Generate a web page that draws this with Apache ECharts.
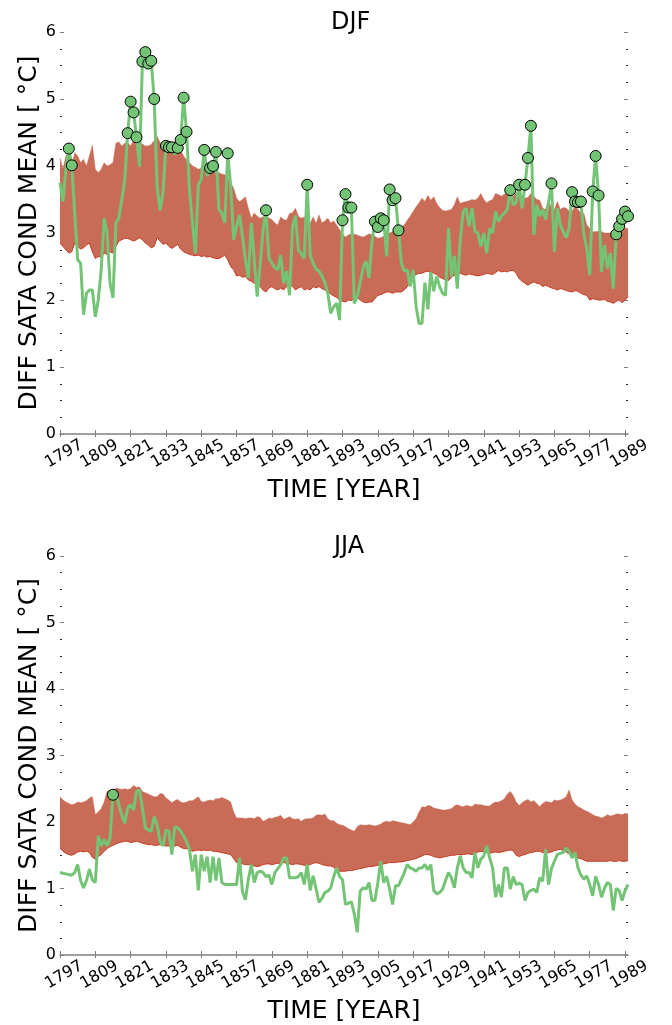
<!DOCTYPE html>
<html>
<head>
<meta charset="utf-8">
<script src="https://cdn.jsdelivr.net/npm/echarts@6/dist/echarts.min.js"></script>
<style>
  html, body { margin: 0; padding: 0; background: #ffffff; }
  #chart { width: 672px; height: 1025px; }
</style>
</head>
<body>
<div id="chart"></div>
<script>
// Seasonal (DJF / JJA) conditional SATA mean difference, 1797-1990,
// with the envelope of the reference ensemble shown as a band.
const FIRST_YEAR = 1797;
const LAST_YEAR = 1990;
const years = [];
for (let y = FIRST_YEAR; y <= LAST_YEAR; y++) years.push(String(y));

const panelTitles = ['DJF', 'JJA'];
const xAxisTitle = 'TIME [YEAR]';
const yAxisTitle = 'DIFF SATA COND MEAN [ \u00b0C]';
const yTickValues = [0, 1, 2, 3, 4, 5, 6];

// ---- DJF ----
const djfMean = [
  3.75, 3.47, 3.95, 4.26, 4.01, 3.30, 2.60, 2.55, 1.78, 2.10,
  2.15, 2.15, 1.75, 2.00, 2.45, 3.22, 3.00, 2.25, 2.03, 3.15,
  3.22, 3.50, 3.79, 4.49, 4.96, 4.80, 4.43, 3.99, 5.56, 5.70,
  5.53, 5.57, 5.00, 3.69, 3.34, 3.60, 4.30, 4.28, 4.28, 4.17,
  4.27, 4.39, 5.02, 4.51, 3.64, 3.15, 2.70, 3.72, 3.80, 4.24,
  3.85, 3.97, 4.00, 4.21, 3.35, 3.30, 3.15, 4.19, 3.70, 2.90,
  3.10, 3.27, 2.95, 2.60, 2.33, 3.15, 2.60, 2.05, 2.52, 3.04,
  3.34, 2.62, 2.55, 2.48, 2.45, 2.67, 2.25, 2.43, 2.07, 3.09,
  3.26, 2.74, 2.69, 2.62, 3.72, 2.67, 2.55, 2.46, 2.43, 2.36,
  2.26, 2.10, 1.80, 1.90, 1.95, 1.70, 3.19, 3.58, 3.38, 3.38,
  1.95, 2.05, 2.26, 2.48, 2.58, 2.33, 2.87, 3.17, 3.09, 3.22,
  3.19, 2.65, 3.65, 3.49, 3.52, 3.04, 2.55, 2.43, 2.45, 2.20,
  2.45, 1.90, 1.65, 1.65, 2.26, 1.86, 2.42, 2.13, 2.35, 2.20,
  2.10, 2.07, 3.07, 2.35, 2.66, 2.17, 2.90, 3.32, 3.37, 3.10,
  3.37, 3.02, 3.00, 2.80, 3.00, 2.70, 3.07, 3.00, 3.32, 3.17,
  3.25, 3.30, 3.35, 3.64, 3.42, 3.45, 3.72, 3.37, 3.72, 4.12,
  4.60, 2.97, 3.42, 3.25, 3.35, 3.20, 3.45, 3.74, 2.72, 3.37,
  3.12, 3.02, 2.93, 3.07, 3.61, 3.47, 3.46, 3.47, 2.97, 2.77,
  2.37, 3.62, 4.15, 3.56, 2.42, 2.82, 2.47, 2.70, 2.17, 2.98,
  3.10, 3.21, 3.32, 3.25
];
const djfUpper = [
  4.12, 3.95, 4.15, 4.18, 3.98, 4.20, 4.15, 4.05, 4.10, 4.00,
  4.15, 4.31, 3.95, 3.90, 3.95, 4.05, 4.00, 4.02, 4.05, 4.34,
  4.36, 4.30, 4.34, 4.35, 4.30, 4.38, 4.38, 4.35, 4.33, 4.30,
  4.30, 4.32, 4.38, 4.44, 4.35, 4.30, 4.25, 4.22, 4.21, 4.22,
  4.20, 4.23, 4.15, 4.09, 4.05, 4.00, 3.98, 3.95, 3.97, 3.95,
  3.93, 3.93, 3.92, 3.90, 3.90, 3.88, 3.87, 3.82, 3.75, 3.67,
  3.52, 3.47, 3.50, 3.54, 3.37, 3.22, 3.30, 3.25, 3.22, 3.24,
  3.27, 3.22, 3.20, 3.15, 3.12, 3.24, 3.20, 3.19, 3.29, 3.30,
  3.37, 3.25, 3.22, 3.24, 3.20, 3.14, 3.24, 3.14, 3.27, 3.15,
  3.18, 3.22, 3.15, 3.18, 3.12, 3.05, 2.98, 2.94, 2.97, 2.99,
  2.98, 2.97, 2.95, 2.94, 2.96, 2.99, 2.97, 2.95, 2.92, 2.93,
  2.95, 2.98, 3.00, 3.02, 3.02, 3.00, 3.09, 3.12, 3.19, 3.25,
  3.32, 3.39, 3.45, 3.52, 3.47, 3.56, 3.49, 3.54, 3.44, 3.38,
  3.34, 3.33, 3.34, 3.35, 3.42, 3.54, 3.44, 3.46, 3.47, 3.48,
  3.50, 3.49, 3.52, 3.59, 3.50, 3.45, 3.48, 3.50, 3.59, 3.57,
  3.55, 3.58, 3.60, 3.56, 3.55, 3.60, 3.55, 3.52, 3.52, 3.53,
  3.59, 3.55, 3.50, 3.49, 3.37, 3.35, 3.50, 3.37, 3.35, 3.47,
  3.35, 3.38, 3.37, 3.33, 3.32, 3.40, 3.35, 3.30, 3.29, 3.12,
  3.07, 3.02, 3.02, 3.03, 3.02, 3.00, 3.00, 3.00, 2.98, 2.95,
  3.00, 3.02, 3.07, 3.07
];
const djfLower = [
  2.85, 2.80, 2.75, 2.70, 2.72, 2.85, 2.80, 2.76, 2.78, 2.82,
  2.85, 2.72, 2.62, 2.65, 2.64, 2.70, 2.68, 2.72, 2.70, 2.80,
  2.88, 2.90, 2.92, 2.92, 2.90, 2.88, 2.90, 2.93, 2.90, 2.85,
  2.82, 2.78, 2.80, 2.93, 2.88, 2.83, 2.85, 2.80, 2.77, 2.80,
  2.83, 2.76, 2.72, 2.70, 2.68, 2.67, 2.66, 2.67, 2.65, 2.66,
  2.64, 2.65, 2.63, 2.62, 2.62, 2.64, 2.67, 2.60, 2.50, 2.45,
  2.36, 2.37, 2.34, 2.35, 2.30, 2.28, 2.25, 2.24, 2.20, 2.15,
  2.12, 2.18, 2.20, 2.17, 2.15, 2.18, 2.15, 2.20, 2.24, 2.20,
  2.15, 2.18, 2.20, 2.15, 2.17, 2.15, 2.20, 2.18, 2.20, 2.17,
  2.15, 2.12, 2.09, 2.06, 2.04, 2.00, 1.98, 1.97, 2.00, 1.99,
  2.02, 2.04, 2.00, 1.97, 1.96, 1.97, 1.97, 2.02, 2.07, 2.08,
  2.10, 2.12, 2.12, 2.10, 2.12, 2.12, 2.12, 2.15, 2.20, 2.28,
  2.35, 2.38, 2.40, 2.40, 2.42, 2.43, 2.42, 2.40, 2.38, 2.34,
  2.32, 2.30, 2.29, 2.34, 2.37, 2.39, 2.40, 2.38, 2.37, 2.39,
  2.38, 2.37, 2.36, 2.37, 2.38, 2.40, 2.39, 2.38, 2.41, 2.44,
  2.42, 2.43, 2.42, 2.44, 2.44, 2.40, 2.32, 2.28, 2.25, 2.22,
  2.25, 2.27, 2.25, 2.24, 2.20, 2.22, 2.20, 2.18, 2.17, 2.15,
  2.17, 2.16, 2.14, 2.13, 2.12, 2.14, 2.13, 2.10, 2.08, 2.07,
  2.00, 2.02, 2.01, 2.00, 2.00, 2.01, 1.98, 1.97, 1.95, 1.98,
  2.00, 1.96, 2.00, 2.05
];

// ---- JJA ----
const jjaMean = [
  1.24, 1.23, 1.22, 1.21, 1.20, 1.24, 1.36, 1.12, 1.01, 1.12,
  1.29, 1.13, 1.09, 1.79, 1.64, 1.74, 1.64, 1.76, 2.41, 2.43,
  2.26, 2.10, 1.98, 2.21, 2.26, 2.18, 2.46, 2.48, 2.21, 1.91,
  1.88, 1.86, 2.08, 1.96, 1.71, 1.64, 1.88, 1.86, 1.51, 1.93,
  1.91, 1.86, 1.79, 1.71, 1.58, 1.26, 1.51, 0.97, 1.51, 1.26,
  1.48, 1.09, 1.48, 1.12, 1.46, 1.09, 1.06, 1.06, 1.06, 1.06,
  1.06, 1.46, 0.95, 0.83, 1.14, 1.36, 1.09, 1.24, 1.26, 1.24,
  1.18, 1.20, 1.06, 1.24, 1.30, 1.36, 1.46, 1.46, 1.16, 1.16,
  1.16, 1.18, 1.24, 1.06, 1.36, 0.97, 1.19, 1.00, 0.79, 0.85,
  0.94, 0.96, 1.01, 1.18, 1.31, 1.18, 1.13, 0.76, 0.78, 0.80,
  0.62, 0.34, 0.96, 1.01, 0.99, 1.09, 0.82, 0.82, 1.09, 1.41,
  1.09, 1.18, 0.99, 0.76, 1.04, 1.04, 1.14, 1.24, 1.36, 1.31,
  1.29, 1.26, 1.31, 1.31, 1.36, 1.28, 1.36, 0.97, 0.92, 0.94,
  0.99, 1.12, 1.24, 1.16, 1.01, 1.31, 1.49, 1.31, 1.24, 1.24,
  1.16, 1.54, 1.31, 1.44, 1.49, 1.64, 1.46, 1.31, 0.87, 1.06,
  0.87, 1.31, 1.31, 0.99, 1.18, 1.06, 1.08, 1.06, 0.82, 0.94,
  0.97, 0.99, 0.94, 1.16, 1.11, 1.59, 1.06, 1.30, 1.41, 1.51,
  1.53, 1.54, 1.61, 1.56, 1.46, 1.54, 1.31, 1.20, 1.14, 1.19,
  1.06, 0.89, 1.18, 1.06, 0.87, 1.00, 1.09, 1.06, 0.67, 1.00,
  0.97, 0.82, 0.97, 1.06
];
const jjaUpper = [
  2.38, 2.33, 2.30, 2.28, 2.26, 2.27, 2.30, 2.29, 2.30, 2.32,
  2.36, 2.38, 2.11, 2.15, 2.20, 2.30, 2.46, 2.48, 2.38, 2.51,
  2.50, 2.49, 2.50, 2.49, 2.50, 2.55, 2.52, 2.53, 2.46, 2.44,
  2.42, 2.40, 2.38, 2.38, 2.43, 2.42, 2.36, 2.33, 2.29, 2.32,
  2.34, 2.30, 2.29, 2.30, 2.32, 2.32, 2.35, 2.38, 2.31, 2.30,
  2.32, 2.33, 2.32, 2.35, 2.35, 2.37, 2.35, 2.33, 2.30, 2.15,
  2.06, 2.06, 2.06, 2.05, 2.06, 2.06, 2.05, 2.08, 2.07, 2.01,
  2.03, 2.06, 2.05, 2.07, 2.08, 2.10, 2.04, 2.06, 2.08, 2.05,
  2.04, 2.05, 2.01, 2.04, 2.05, 2.05, 2.06, 2.10, 2.11, 2.10,
  2.12, 2.05, 2.02, 2.02, 1.98, 1.96, 1.95, 1.93, 1.90, 1.88,
  1.86, 1.93, 1.96, 1.95, 1.95, 1.96, 1.95, 1.94, 1.95, 1.97,
  2.00, 2.01, 2.00, 2.02, 2.01, 2.00, 1.99, 1.98, 1.97, 1.96,
  2.00, 2.05, 2.15, 2.23, 2.22, 2.25, 2.24, 2.21, 2.20, 2.19,
  2.18, 2.18, 2.19, 2.20, 2.24, 2.26, 2.24, 2.23, 2.25, 2.24,
  2.23, 2.27, 2.26, 2.26, 2.25, 2.24, 2.24, 2.28, 2.30, 2.30,
  2.32, 2.35, 2.42, 2.46, 2.40, 2.30, 2.25, 2.29, 2.32, 2.34,
  2.30, 2.32, 2.28, 2.23, 2.28, 2.31, 2.30, 2.29, 2.33, 2.32,
  2.33, 2.35, 2.38, 2.48, 2.33, 2.27, 2.23, 2.21, 2.18, 2.16,
  2.14, 2.11, 2.09, 2.08, 2.06, 2.08, 2.11, 2.09, 2.10, 2.12,
  2.12, 2.11, 2.13, 2.12
];
const jjaLower = [
  1.61, 1.56, 1.53, 1.51, 1.50, 1.52, 1.55, 1.56, 1.55, 1.56,
  1.54, 1.47, 1.44, 1.48, 1.51, 1.56, 1.60, 1.63, 1.65, 1.67,
  1.69, 1.70, 1.71, 1.71, 1.69, 1.70, 1.71, 1.70, 1.68, 1.67,
  1.66, 1.66, 1.65, 1.65, 1.66, 1.65, 1.64, 1.64, 1.63, 1.64,
  1.65, 1.62, 1.60, 1.60, 1.58, 1.56, 1.57, 1.58, 1.57, 1.58,
  1.57, 1.58, 1.56, 1.56, 1.55, 1.54, 1.53, 1.52, 1.51, 1.45,
  1.39, 1.38, 1.37, 1.36, 1.36, 1.35, 1.34, 1.33, 1.34, 1.36,
  1.37, 1.37, 1.36, 1.37, 1.38, 1.38, 1.39, 1.38, 1.37, 1.36,
  1.37, 1.37, 1.36, 1.35, 1.34, 1.36, 1.38, 1.39, 1.38, 1.36,
  1.35, 1.34, 1.34, 1.32, 1.27, 1.26, 1.26, 1.26, 1.27, 1.27,
  1.28, 1.29, 1.30, 1.31, 1.32, 1.33, 1.33, 1.34, 1.35, 1.36,
  1.37, 1.38, 1.39, 1.39, 1.39, 1.40, 1.40, 1.41, 1.42, 1.43,
  1.44, 1.45, 1.47, 1.49, 1.51, 1.51, 1.50, 1.48, 1.47, 1.46,
  1.47, 1.48, 1.49, 1.50, 1.50, 1.51, 1.51, 1.51, 1.52, 1.52,
  1.51, 1.53, 1.55, 1.56, 1.55, 1.54, 1.53, 1.54, 1.55, 1.54,
  1.55, 1.56, 1.57, 1.58, 1.57, 1.50, 1.48, 1.50, 1.51, 1.53,
  1.54, 1.55, 1.56, 1.56, 1.54, 1.53, 1.54, 1.55, 1.57, 1.58,
  1.59, 1.57, 1.55, 1.52, 1.50, 1.48, 1.46, 1.45, 1.43, 1.41,
  1.41, 1.41, 1.41, 1.41, 1.41, 1.41, 1.41, 1.42, 1.41, 1.41,
  1.42, 1.41, 1.41, 1.42
];

const FONT = 'DejaVu Sans';
const GREEN = '#74c476';
const BAND = '#c96c57';
const BAND_EDGE = '#c8381e';
const AXIS_GREY = '#808080';

const panels = [
  { title: panelTitles[0], mean: djfMean, upper: djfUpper, lower: djfLower },
  { title: panelTitles[1], mean: jjaMean, upper: jjaUpper, lower: jjaLower }
];

const grids = [
  { left: 60, top: 32, width: 568, height: 402 },
  { left: 60, top: 556, width: 568, height: 402 }
];

const xAxes = [];
const yAxes = [];
const series = [];
const titles = [];

panels.forEach((p, g) => {
  titles.push({
    text: p.title,
    left: g === 0 ? 326 : 329,
    top: g === 0 ? 6 : 530,
    textStyle: { fontFamily: FONT, fontSize: 24, fontWeight: 'normal', color: '#000' }
  });

  // bottom axis with year labels
  xAxes.push({
    type: 'category', gridIndex: g, data: years, boundaryGap: false, position: 'bottom',
    axisLine: { show: true, lineStyle: { color: AXIS_GREY, width: 1.5 } },
    axisTick: { show: true, interval: 11, inside: true, length: 4, lineStyle: { color: AXIS_GREY } },
    axisLabel: {
      interval: 11, rotate: 30, fontFamily: FONT, fontSize: 16, color: '#000',
      margin: 13, align: 'center', verticalAlign: 'top'
    },
    splitLine: { show: false },
    name: xAxisTitle, nameLocation: 'middle', nameGap: 44,
    nameTextStyle: { fontFamily: FONT, fontSize: 25, color: '#000' }
  });
  // top axis: ticks only
  xAxes.push({
    type: 'category', gridIndex: g, data: years, boundaryGap: false, position: 'top',
    axisLine: { show: false },
    axisTick: { show: true, interval: 11, inside: true, length: 3, lineStyle: { color: AXIS_GREY } },
    axisLabel: { show: false },
    splitLine: { show: false }
  });

  const yCommon = {
    type: 'value', gridIndex: g,
    min: yTickValues[0], max: yTickValues[yTickValues.length - 1], interval: 1,
    axisLine: { show: false },
    splitLine: { show: false },
    axisTick: { show: true, inside: true, length: 4, lineStyle: { color: AXIS_GREY } },
    minorTick: { show: true, splitNumber: 4, length: 2, lineStyle: { color: '#222', width: 1.2 } }
  };
  yAxes.push(Object.assign({}, yCommon, {
    position: 'left',
    axisLabel: { fontFamily: FONT, fontSize: 16, color: '#000', margin: 4 },
    name: yAxisTitle, nameLocation: 'middle', nameGap: 18, nameMoveOverlap: false,
    nameTextStyle: { fontFamily: FONT, fontSize: 25, color: '#000' }
  }));
  yAxes.push(Object.assign({}, yCommon, {
    position: 'right',
    axisLabel: { show: false }
  }));

  const xi = g * 2;
  const yi = g * 2;

  // envelope: lower edge, then the band stacked on it
  series.push({
    type: 'line', name: p.title + ' lower', xAxisIndex: xi, yAxisIndex: yi,
    stack: 'band' + g, symbol: 'none', silent: true, z: 1,
    data: p.lower,
    lineStyle: { color: BAND_EDGE, width: 1 }
  });
  series.push({
    type: 'line', name: p.title + ' band', xAxisIndex: xi, yAxisIndex: yi,
    stack: 'band' + g, symbol: 'none', silent: true, z: 1,
    data: p.upper.map((u, i) => +(u - p.lower[i]).toFixed(3)),
    lineStyle: { color: BAND, width: 0.5 },
    areaStyle: { color: BAND, opacity: 1 }
  });
  // conditional mean
  series.push({
    type: 'line', name: p.title + ' mean', xAxisIndex: xi, yAxisIndex: yi,
    symbol: 'none', z: 3,
    data: p.mean,
    lineStyle: { color: GREEN, width: 3 }
  });
  // years where the mean lies above the envelope
  const above = [];
  p.mean.forEach((v, i) => { if (v > p.upper[i]) above.push([years[i], v]); });
  series.push({
    type: 'scatter', name: p.title + ' above', xAxisIndex: xi, yAxisIndex: yi,
    symbol: 'circle', symbolSize: 11, z: 4,
    data: above,
    itemStyle: { color: GREEN, borderColor: '#000', borderWidth: 1, opacity: 1 }
  });
});

const chart = echarts.init(document.getElementById('chart'), null, { renderer: 'canvas' });
chart.setOption({
  animation: false,
  backgroundColor: '#ffffff',
  title: titles,
  grid: grids,
  xAxis: xAxes,
  yAxis: yAxes,
  series: series
});
</script>
</body>
</html>
